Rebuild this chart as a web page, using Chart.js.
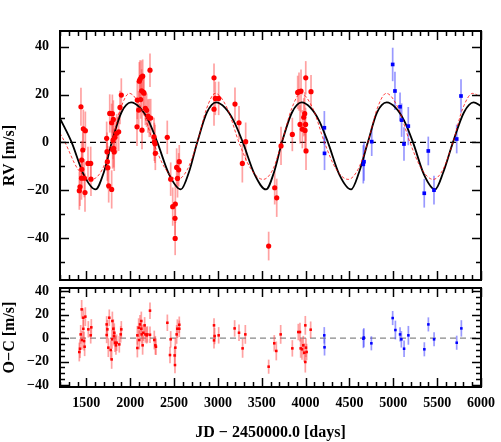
<!DOCTYPE html>
<html>
<head>
<meta charset="utf-8">
<script src="https://cdn.jsdelivr.net/npm/chart.js@4.4.1/dist/chart.umd.min.js"></script>
<style>
  html, body { margin: 0; padding: 0; background: #fff; }
  canvas { position: absolute; left: 0; }
  #rvChart { top: 0; }
  #ocChart { top: 284px; }
</style>
</head>
<body>
<canvas id="rvChart" width="501" height="284"></canvas>
<canvas id="ocChart" width="501" height="158"></canvas>
<script>
// axis ticks
const jdTicks = [1500, 2000, 2500, 3000, 3500, 4000, 4500, 5000, 5500, 6000];
const rvTicks = [-40, -20, 0, 20, 40];
const ocTicks = [-40, -20, 0, 20, 40];

// red instrument, radial velocities [m/s]
const redDays = [1420, 1428, 1439, 1445, 1447, 1449, 1460, 1466, 1477, 1485, 1489, 1519, 1550, 1553,
  1732, 1736, 1740, 1745, 1755, 1767, 1789, 1789, 1797, 1800, 1805, 1808, 1812, 1818, 1827, 1846, 1869, 1884, 1899,
  2078, 2081, 2097, 2104, 2112, 2120, 2127, 2131, 2135, 2143, 2150, 2158, 2173, 2188, 2203, 2218, 2226, 2234, 2272, 2276, 2283, 2287,
  2423, 2462, 2485, 2511, 2513, 2515, 2530, 2540, 2553, 2560,
  2956, 2956, 2971, 3009,
  3195, 3241, 3279, 3317,
  3579, 3648, 3671, 3720,
  3849, 3910, 3925, 3937, 3948, 3963, 3979, 3990, 3994, 4000, 4002, 4005, 4062];
const redRV = [-20.2, -18.6, 14.9, -15.0, -7.4, -11.3, -3.2, 5.7, -15.0, -21.0, 4.9, -8.8, -8.8, -15.4,
  1.7, -3.9, -8.1, -10.6, -18.2, 12.1, -19.7, 8.2, 12.0, -3.0, 0.9, 9.6, -2.5, -4.0, 2.1, 3.8, 4.4, 14.6, 19.8,
  6.5, 17.7, 13.5, 25.6, 26.4, 17.9, 27.3, 21.6, 5.1, 27.7, 21.0, 20.6, 14.2, 13.4, 11.0, 10.2, 30.2, 10.2, 2.3, 0.2, -0.6, -4.6,
  2.1, -15.4, -26.9, -31.8, -40.2, -25.8, -10.5, -15.1, -11.5, -8.1,
  27.0, 13.9, 18.4, 18.4,
  16.0, 8.2, -8.8, 0.3,
  -43.4, -19.0, -23.2, -1.5,
  3.3, 20.9, 21.2, 7.5, 21.5, 5.5, 10.5, 12.0, 5.0, 7.5, 27.0, -3.6, 21.2];
const redErr = [8, 8, 8, 9, 8, 8, 8, 8, 8, 8, 8, 7, 7, 7,
  7, 8, 8, 9, 7, 8, 8, 8, 8, 8, 8, 8, 8, 8, 7, 8, 8, 7, 7,
  8, 8, 8, 8, 8, 8, 7, 9, 8, 7, 7, 7, 7, 7, 7, 8, 7, 8, 8, 8, 8, 7,
  7, 7, 8, 7, 7, 8, 8, 8, 7, 7,
  6, 7, 7, 7,
  7, 7, 8, 8,
  6, 7, 8, 8,
  7, 7, 8, 8, 9, 8, 8, 9, 8, 7, 7, 8, 7];

// blue instrument, radial velocities [m/s]
const blueDays = [4214, 4216, 4658, 4666, 4754, 4993, 5019, 5077, 5095, 5122, 5171, 5353, 5399, 5464, 5723, 5772];
const blueRV = [6.1, -4.6, -9.2, -8.1, 0.3, 32.6, 21.5, 14.9, 9.3, -0.7, 6.8, -21.3, -3.6, -20.0, 1.4, 19.4];
const blueErr = [7, 7, 8, 8, 6, 7, 8, 6, 7, 7, 8, 6, 6, 6, 6, 7];

// residuals O-C [m/s]
const ocRedDays = [1420, 1428, 1436, 1447, 1451, 1466, 1466, 1474, 1481, 1489, 1523, 1550, 1557,
  1732, 1732, 1740, 1751, 1762, 1778, 1789, 1793, 1797, 1808, 1816, 1819, 1827, 1838, 1846, 1876, 1892, 1899,
  2082, 2082, 2097, 2104, 2112, 2127, 2127, 2131, 2142, 2150, 2165, 2173, 2188, 2196, 2226, 2226, 2275, 2287, 2294,
  2424, 2454, 2462, 2507, 2511, 2515, 2530, 2538, 2560, 2560,
  2956, 2956, 2963, 3009,
  3191, 3241, 3282, 3313,
  3579, 3643, 3666, 3716,
  3849, 3917, 3936, 3944, 3959, 3974, 3985, 3997, 3997, 4004, 4012, 4058];
const ocRedVal = [-11.9, -9.1, 3.1, 24.4, -1.7, 7.9, 17.3, -2.6, -7.4, 18.2, 7.4, 2.3, 9.1,
  11.6, 2.6, 7.4, -8.2, 17.3, -10.2, -18.2, -1.1, 14.5, 7.9, 1.7, 4.5, -4.0, -6.2, -4.0, -5.4, 3.1, 7.4,
  2.3, -8.5, 8.8, -1.7, 11.6, 14.5, 7.9, 3.1, -6.2, 4.5, 10.8, 3.1, 2.3, 3.1, 23.3, 2.8, -1.7, -6.2, -7.4,
  13.0, -14.5, -1.1, -14.8, -23.0, -8.2, 3.1, 7.9, 7.9, 11.3,
  10.8, -2.0, 1.7, 2.3,
  8.2, 4.5, -8.8, 3.1,
  -24.4, -4.5, -11.0, 3.1,
  -8.8, 5.1, 5.1, -8.8, -9.6, -6.2, -12.5, 10.8, -20.4, -8.2, -11.9, 7.1];
const ocRedErr = [8, 8, 8, 8, 8, 8, 8, 8, 8, 8, 7, 7, 7,
  7, 7, 8, 8, 7, 8, 8, 8, 8, 8, 8, 8, 8, 8, 7, 7, 7, 7,
  8, 8, 8, 8, 8, 8, 7, 8, 8, 7, 7, 7, 7, 7, 7, 7, 8, 8, 7,
  7, 7, 7, 7, 7, 8, 8, 8, 7, 7,
  6, 7, 7, 7,
  7, 7, 8, 8,
  6, 7, 8, 8,
  7, 7, 8, 8, 9, 8, 8, 8, 9, 8, 7, 7];
const ocBlueDays = [4213, 4216, 4659, 4664, 4750, 4993, 5024, 5077, 5092, 5123, 5172, 5354, 5400, 5465, 5723, 5776];
const ocBlueVal = [2.3, -7.9, -0.6, 0.4, -4.5, 17.0, 6.8, 3.1, -1.1, -9.1, 2.3, -9.6, 11.6, -1.1, -4.0, 8.2];
const ocBlueErr = [7, 7, 8, 8, 6, 6, 8, 6, 7, 7, 8, 6, 6, 6, 6, 7];

// orbit fits
const fitDays = [1200, 1333, 1470, 1605, 1700, 1790, 1900, 2010, 2110, 2210, 2310, 2445,
  2578, 2670, 2765, 2875, 2979, 3080, 3180, 3285, 3420,
  3549, 3640, 3730, 3845, 3955, 4055, 4155, 4255, 4385,
  4518, 4610, 4710, 4815, 4925, 5025, 5125, 5225, 5350,
  5476, 5570, 5680, 5805, 5915, 6000];
const fitRV = [10.0, 0, -13.5, -19.7, -12.5, 0, 12.5, 16.7, 14.5, 9.0, 0, -13.5,
  -19.7, -12.5, 0, 12.5, 16.7, 14.5, 9.0, 0, -13.5,
  -19.7, -12.5, 0, 12.5, 16.7, 14.5, 9.0, 0, -13.5,
  -19.7, -12.5, 0, 12.5, 16.7, 14.5, 9.0, 0, -13.5,
  -19.7, -12.5, 0, 12.5, 16.7, 15.2];
const fit2Days = [1200, 1257, 1400, 1560, 1680, 1790, 1890, 1990, 2130, 2265, 2400,
  2540, 2650, 2765, 2870, 2970, 3110, 3240, 3375,
  3515, 3625, 3730, 3840, 3945, 4085, 4215, 4345,
  4485, 4595, 4710, 4815, 4920, 5060, 5190, 5320,
  5455, 5565, 5680, 5790, 5905, 6000];
const fit2RV = [3.8, 0, -11, -15.5, -11.5, 0, 14, 20.5, 14, 0, -11,
  -15.5, -11.5, 0, 14, 20.5, 14, 0, -11,
  -15.5, -11.5, 0, 14, 20.5, 14, 0, -11,
  -15.5, -11.5, 0, 14, 20.5, 14, 0, -11,
  -15.5, -11.5, 0, 14, 20.5, 18.8];

const serif = '"Liberation Serif", "DejaVu Serif", serif';
const pts = (xs, ys) => xs.map((x, i) => ({ x, y: ys[i] }));
const minus = v => v < 0 ? '\u2212' + Math.abs(v) : '' + v;

// error bars + zero line, drawn under the points
const errorBars = {
  id: 'errorBars',
  beforeDatasetsDraw(chart, args, opts) {
    const { ctx, chartArea: a, scales: { y } } = chart;
    ctx.save();
    ctx.beginPath();
    ctx.rect(a.left, a.top, a.right - a.left, a.bottom - a.top);
    ctx.clip();
    const y0 = y.getPixelForValue(0);
    ctx.strokeStyle = opts.zeroColor;
    ctx.lineWidth = opts.zeroWidth;
    ctx.setLineDash(opts.zeroDash);
    ctx.beginPath();
    ctx.moveTo(a.left, y0);
    ctx.lineTo(a.right, y0);
    ctx.stroke();
    ctx.setLineDash([]);
    chart.data.datasets.forEach((ds, i) => {
      if (!ds.err) return;
      const meta = chart.getDatasetMeta(i);
      ctx.strokeStyle = ds.errColor;
      ctx.lineWidth = 1.7;
      meta.data.forEach((p, j) => {
        const v = ds.data[j].y, e = ds.err[j];
        ctx.beginPath();
        ctx.moveTo(p.x, y.getPixelForValue(v + e));
        ctx.lineTo(p.x, y.getPixelForValue(v - e));
        ctx.stroke();
      });
    });
    ctx.restore();
  }
};

// box frame with inward ticks on all four sides
const frame = {
  id: 'frame',
  afterDraw(chart, args, opts) {
    const { ctx, chartArea: a, scales: { x, y } } = chart;
    ctx.save();
    ctx.strokeStyle = '#000';
    ctx.lineWidth = 1.5;
    const seg = (x1, y1, x2, y2) => { ctx.beginPath(); ctx.moveTo(x1, y1); ctx.lineTo(x2, y2); ctx.stroke(); };
    for (let v = 1200; v <= 6000; v += 100) {
      const px = Math.round(x.getPixelForValue(v)) + 0.5;
      const len = v % 500 === 0 ? 9 : 5;
      seg(px, a.top, px, a.top + len);
      seg(px, a.bottom, px, a.bottom - len);
    }
    for (let v = opts.yFrom; v <= y.max; v += opts.yMinor) {
      if (v < y.min) continue;
      const py = Math.round(y.getPixelForValue(v)) + 0.5;
      const len = v % 20 === 0 ? 9 : 5;
      seg(a.left, py, a.left + len, py);
      seg(a.right, py, a.right - len, py);
    }
    ctx.lineWidth = 2;
    ctx.strokeRect(a.left, a.top, a.right - a.left, a.bottom - a.top);
    ctx.restore();
  }
};

function yAxis(min, max, ticks, title) {
  return {
    min, max,
    afterBuildTicks: s => { s.ticks = ticks.map(v => ({ value: v })); },
    afterFit: s => { s.width = 60; s.paddingTop = 0; s.paddingBottom = 0; },
    grid: { display: false, drawTicks: false },
    border: { display: false },
    ticks: { padding: 11, color: '#000', font: { family: serif, size: 14, weight: 'bold' }, callback: minus },
    title: { display: true, text: title, color: '#000', padding: 0, font: { family: serif, size: 16, weight: 'bold' } }
  };
}

Chart.defaults.animation = false;

new Chart(document.getElementById('rvChart'), {
  type: 'scatter',
  data: {
    datasets: [
      { data: pts(redDays, redRV), err: redErr, errColor: 'rgba(255,70,70,0.5)', order: 0,
        pointStyle: 'circle', radius: 2.6, backgroundColor: '#ff0000', borderWidth: 0 },
      { data: pts(blueDays, blueRV), err: blueErr, errColor: 'rgba(70,70,255,0.55)', order: 0,
        pointStyle: 'rect', radius: 2.6, backgroundColor: '#0000ff', borderWidth: 0 },
      { data: pts(fitDays, fitRV), showLine: true, order: 2, radius: 0, borderColor: '#000',
        borderWidth: 1.8, cubicInterpolationMode: 'monotone' },
      { data: pts(fit2Days, fit2RV), showLine: true, order: 1, radius: 0, borderColor: 'rgba(255,0,0,0.85)',
        borderWidth: 0.9, borderDash: [3, 2], cubicInterpolationMode: 'monotone' }
    ]
  },
  options: {
    responsive: false,
    layout: { padding: { top: 31, bottom: 4, left: 0, right: 20 } },
    plugins: {
      legend: { display: false }, tooltip: { enabled: false },
      errorBars: { zeroColor: '#000', zeroWidth: 1.3, zeroDash: [6, 4] },
      frame: { yFrom: -50, yMinor: 10 }
    },
    scales: {
      x: { type: 'linear', min: 1200, max: 6000, display: false },
      y: yAxis(-57.6, 46.6, rvTicks, 'RV [m/s]')
    }
  },
  plugins: [errorBars, frame]
});

new Chart(document.getElementById('ocChart'), {
  type: 'scatter',
  data: {
    datasets: [
      { data: pts(ocRedDays, ocRedVal), err: ocRedErr, errColor: 'rgba(255,70,70,0.5)',
        pointStyle: 'rect', radius: 1.8, backgroundColor: '#ff0000', borderWidth: 0 },
      { data: pts(ocBlueDays, ocBlueVal), err: ocBlueErr, errColor: 'rgba(70,70,255,0.55)',
        pointStyle: 'rect', radius: 1.8, backgroundColor: '#0000ff', borderWidth: 0 }
    ]
  },
  options: {
    responsive: false,
    layout: { padding: { top: 4, bottom: 0, left: 0, right: 20 } },
    plugins: {
      legend: { display: false }, tooltip: { enabled: false },
      errorBars: { zeroColor: '#888', zeroWidth: 1.2, zeroDash: [6, 4] },
      frame: { yFrom: -40, yMinor: 5 }
    },
    scales: {
      x: {
        type: 'linear', min: 1200, max: 6000,
        afterBuildTicks: s => { s.ticks = jdTicks.map(v => ({ value: v })); },
        afterFit: s => { s.height = 55; s.paddingLeft = 0; s.paddingRight = 0; },
        grid: { display: false, drawTicks: false },
        border: { display: false },
        ticks: { padding: 8, maxRotation: 0, color: '#000', font: { family: serif, size: 14, weight: 'bold' },
          callback: v => '' + v },
        title: { display: true, text: 'JD \u2212 2450000.0 [days]', color: '#000', padding: { top: 0, bottom: 0 },
          font: { family: serif, size: 16, weight: 'bold' } }
      },
      y: yAxis(-41.7, 42.6, ocTicks, 'O\u2212C [m/s]')
    }
  },
  plugins: [errorBars, frame]
});
</script>
</body>
</html>
